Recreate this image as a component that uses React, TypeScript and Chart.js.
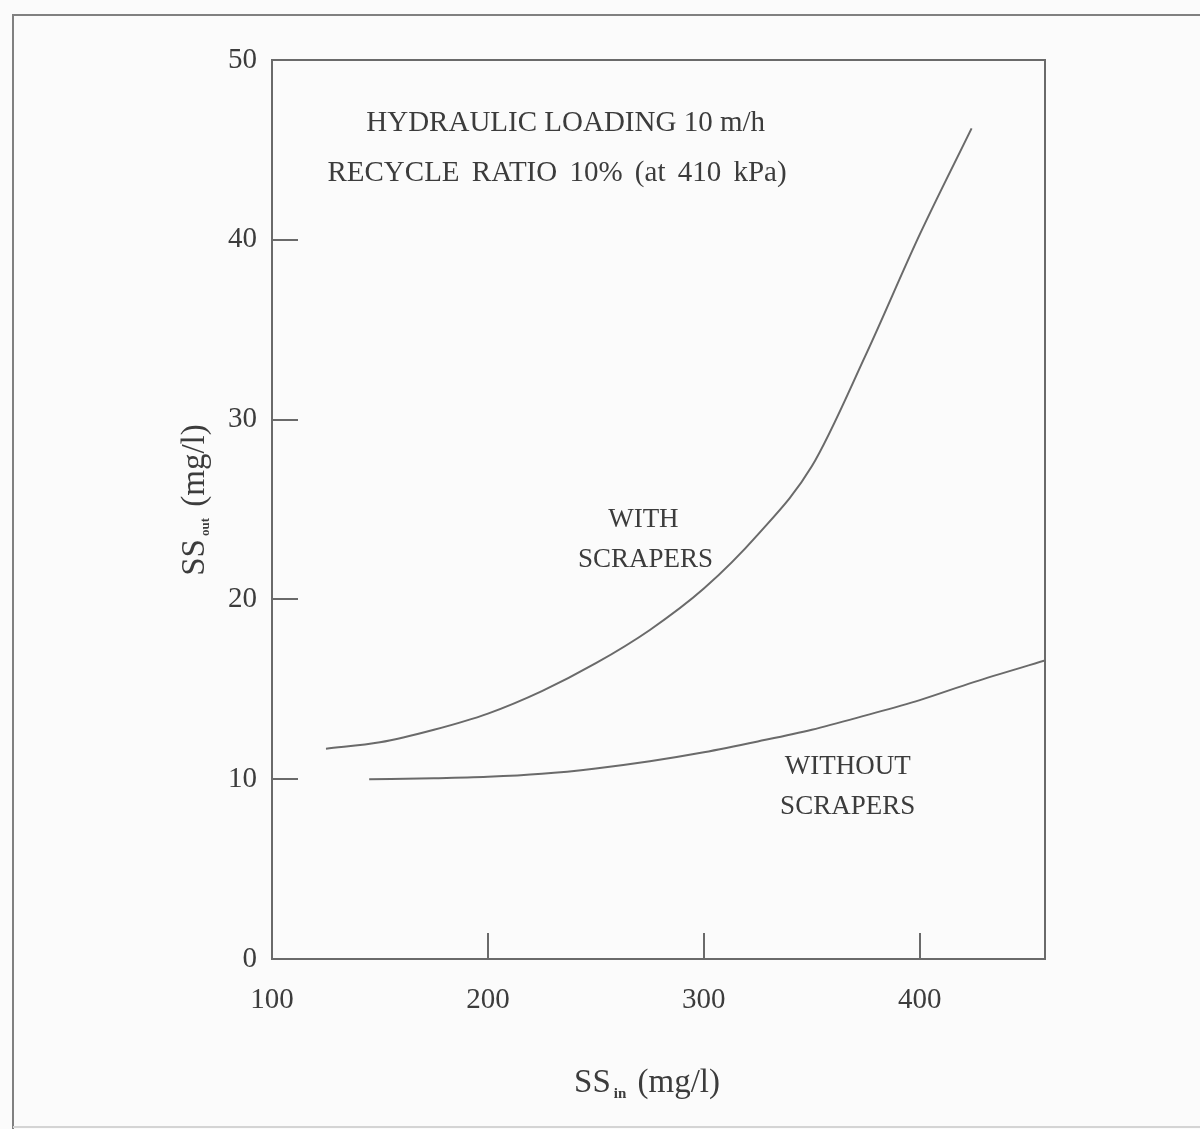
import { useEffect, useRef } from "react";
import { Chart, registerables } from "chart.js";

Chart.register(...registerables);

// ---- data ----
const withX = [125, 150, 175, 200, 225, 250, 275, 300, 325, 350, 375, 400, 424];
const withY = [11.7, 12.05, 12.75, 13.65, 14.9, 16.45, 18.3, 20.6, 23.6, 27.4, 33.6, 40.3, 46.2];

const withoutX = [145, 175, 200, 225, 250, 275, 300, 325, 350, 375, 400, 425, 458];
const withoutY = [10.0, 10.05, 10.13, 10.3, 10.6, 11.0, 11.5, 12.1, 12.75, 13.55, 14.4, 15.4, 16.6];

const xTicks = [100, 200, 300, 400];
const yTicks = [0, 10, 20, 30, 40, 50];

const noteTexts = ["HYDRAULIC LOADING 10 m/h", "RECYCLE RATIO 10% (at 410 kPa)", "WITH", "SCRAPERS", "WITHOUT", "SCRAPERS"];
const noteX = [236, 232, 272, 273, 366.6, 366.6];
const noteY = [46.5, 43.7, 24.4, 22.2, 10.67, 8.44];

const xTitle = ["SS", "in", " (mg/l)"];
const yTitle = ["SS", "out", " (mg/l)"];

// ---- styles ----
const SERIF = "'Liberation Serif', 'DejaVu Serif', serif";
const INK = "#3c3c3c";
const LINE = "#6a6a6a";

function drawSubText(ctx: CanvasRenderingContext2D, parts: string[], cx: number, cy: number, big: number, small: number, drop: number) {
  const fonts = [`${big}px ${SERIF}`, `bold ${small}px ${SERIF}`, `${big}px ${SERIF}`];
  const widths = parts.map((p, i) => {
    ctx.font = fonts[i];
    return ctx.measureText(p).width;
  });
  const gap = 3;
  const total = widths[0] + widths[1] + widths[2] + gap * 2;
  let x = cx - total / 2;
  ctx.textBaseline = "middle";
  ctx.textAlign = "left";
  parts.forEach((p, i) => {
    ctx.font = fonts[i];
    ctx.fillText(p, x, cy + (i === 1 ? drop : 0));
    x += widths[i] + gap;
  });
}

const decor = {
  id: "decor",
  beforeDraw(chart: any) {
    const ctx = chart.ctx as CanvasRenderingContext2D;
    ctx.save();
    ctx.fillStyle = "#fbfbfb";
    ctx.fillRect(0, 0, chart.width, chart.height);
    ctx.restore();
  },
  afterDraw(chart: any) {
    const ctx = chart.ctx as CanvasRenderingContext2D;
    const a = chart.chartArea;
    const xs = chart.scales.x;
    const ys = chart.scales.y;
    ctx.save();
    // outer figure frame
    ctx.strokeStyle = "#808080";
    ctx.lineWidth = 2;
    ctx.beginPath();
    ctx.moveTo(13, chart.height);
    ctx.lineTo(13, 15);
    ctx.lineTo(chart.width, 15);
    ctx.stroke();
    ctx.strokeStyle = "#d4d4d4";
    ctx.beginPath();
    ctx.moveTo(13, chart.height - 2);
    ctx.lineTo(chart.width, chart.height - 2);
    ctx.stroke();
    // plot frame
    ctx.strokeStyle = LINE;
    ctx.lineWidth = 2;
    ctx.strokeRect(a.left, a.top, a.right - a.left, a.bottom - a.top);

    // notes
    ctx.fillStyle = INK;
    ctx.textAlign = "center";
    ctx.textBaseline = "middle";
    noteTexts.forEach((t, i) => {
      ctx.font = `${i < 2 ? 29 : 27}px ${SERIF}`;
      (ctx as any).wordSpacing = i === 1 ? "5px" : "0px";
      ctx.fillText(t, xs.getPixelForValue(noteX[i]), ys.getPixelForValue(noteY[i]));
    });
    (ctx as any).wordSpacing = "0px";

    // axis titles
    drawSubText(ctx, xTitle, a.left + 375, a.bottom + 124, 33, 15, 11);
    ctx.translate(a.left - 77, a.top + 440);
    ctx.rotate(-Math.PI / 2);
    drawSubText(ctx, yTitle, 0, 0, 33, 13, 11);
    ctx.restore();
  },
};

export default function App() {
  const ref = useRef<HTMLCanvasElement | null>(null);
  useEffect(() => {
    if (!ref.current) return;
    const chart = new Chart(ref.current, {
      type: "line",
      data: {
        datasets: [
          {
            label: "WITH SCRAPERS",
            data: withX.map((x, i) => ({ x, y: withY[i] })),
            borderColor: LINE,
            borderWidth: 2,
            pointRadius: 0,
            cubicInterpolationMode: "monotone",
            fill: false,
          },
          {
            label: "WITHOUT SCRAPERS",
            data: withoutX.map((x, i) => ({ x, y: withoutY[i] })),
            borderColor: LINE,
            borderWidth: 2,
            pointRadius: 0,
            cubicInterpolationMode: "monotone",
            fill: false,
          },
        ],
      },
      options: {
        responsive: false,
        animation: false,
        layout: { padding: { left: 0, top: 60, right: 155, bottom: 0 } },
        plugins: { legend: { display: false }, tooltip: { enabled: false }, title: { display: false } },
        scales: {
          x: {
            type: "linear",
            min: 100,
            max: 458,
            afterBuildTicks: (s: any) => {
              s.ticks = xTicks.map((v) => ({ value: v }));
            },
            afterFit: (s: any) => {
              s.height = 170;
            },
            ticks: {
              includeBounds: false,
              padding: 50,
              color: INK,
              font: { family: SERIF, size: 29 },
            },
            grid: {
              drawOnChartArea: false,
              drawTicks: true,
              tickLength: -26,
              color: LINE,
              lineWidth: 2,
            },
            border: { display: true, color: LINE, width: 2 },
          },
          y: {
            type: "linear",
            min: 0,
            max: 50,
            afterBuildTicks: (s: any) => {
              s.ticks = yTicks.map((v) => ({ value: v }));
            },
            afterFit: (s: any) => {
              s.width = 272;
            },
            ticks: {
              includeBounds: false,
              padding: 41,
              color: INK,
              font: { family: SERIF, size: 29 },
            },
            grid: {
              drawOnChartArea: false,
              drawTicks: true,
              tickLength: -26,
              color: LINE,
              lineWidth: 2,
            },
            border: { display: true, color: LINE, width: 2 },
          },
        },
      },
      plugins: [decor],
    } as any);
    return () => chart.destroy();
  }, []);
  return (
    <div style={{ position: "absolute", left: 0, top: 0, width: 1200, height: 1129 }}>
      <canvas ref={ref} width={1200} height={1129} style={{ width: 1200, height: 1129, display: "block" }} />
    </div>
  );
}
